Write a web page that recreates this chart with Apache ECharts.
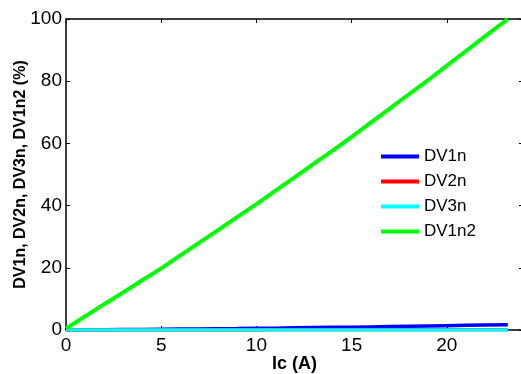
<!DOCTYPE html>
<html>
<head>
<meta charset="utf-8">
<script src="https://cdn.jsdelivr.net/npm/echarts@6/dist/echarts.min.js"></script>
<style>
    html, body { margin: 0; padding: 0; background: #fff; }
    #chart { width: 521px; height: 374px; }
</style>
</head>
<body>
<div id="chart"></div>
<script>
// Ic (A)
var current = [0, 1, 2, 3, 4, 5, 6, 7, 8, 9, 10, 11, 12, 13, 14, 15, 16, 17, 18, 19, 20, 21, 22, 23.2];
var dv1n = [0, 0.05, 0.1, 0.15, 0.2, 0.25, 0.3, 0.35, 0.4, 0.45, 0.55, 0.6, 0.7, 0.8, 0.85, 0.9, 1.0, 1.1, 1.2, 1.3, 1.4, 1.5, 1.6, 1.7];
var dv2n = [0, 0, 0, 0.01, 0.01, 0.02, 0.02, 0.03, 0.03, 0.04, 0.04, 0.05, 0.05, 0.06, 0.06, 0.07, 0.07, 0.08, 0.08, 0.09, 0.09, 0.1, 0.1, 0.1];
var dv3n = [0, 0, 0, 0, 0, 0, 0, 0, 0, 0, 0, 0, 0, 0, 0, 0, 0, 0, 0, 0, 0, 0, 0, 0];
var dv1n2 = [0.5, 4.4, 8.3, 12.1, 16.0, 19.8, 24.0, 28.1, 32.2, 36.4, 40.5, 44.8, 49.1, 53.4, 57.7, 62.1, 66.7, 71.2, 75.8, 80.3, 85.0, 89.7, 94.4, 100];

var names = ['DV1n', 'DV2n', 'DV3n', 'DV1n2'];
var colors = ['#0000ff', '#ff0000', '#00ffff', '#00ff00'];
var values = [dv1n, dv2n, dv3n, dv1n2];

var font = 'Arial, "Liberation Sans", sans-serif';

function pairs(ys) {
    var out = [];
    for (var i = 0; i < current.length; i++) {
        out.push([current[i], ys[i]]);
    }
    return out;
}

var series = [];
for (var i = 0; i < names.length; i++) {
    series.push({
        name: names[i],
        type: 'line',
        xAxisIndex: 0,
        yAxisIndex: 0,
        showSymbol: false,
        animation: false,
        data: pairs(values[i]),
        lineStyle: { color: colors[i], width: i === 3 ? 4 : 3.5 },
        itemStyle: { color: colors[i] }
    });
}

var chart = echarts.init(document.getElementById('chart'));
chart.setOption({
    backgroundColor: '#fff',
    animation: false,
    grid: { left: 66, right: -2, top: 19, bottom: 44, containLabel: false, outerBoundsMode: 'none' },
    legend: {
        orient: 'vertical',
        left: 381,
        top: 148,
        padding: 0,
        itemGap: 8,
        itemWidth: 38,
        itemHeight: 4,
        icon: 'rect',
        data: names,
        textStyle: { fontFamily: font, fontSize: 17, color: '#000', lineHeight: 17 }
    },
    xAxis: [{
        type: 'value',
        min: 0,
        max: 24,
        interval: 5,
        position: 'bottom',
        name: 'Ic (A)',
        nameLocation: 'middle',
        nameGap: 25,
        nameMoveOverlap: false,
        nameTextStyle: { fontFamily: font, fontSize: 18, fontWeight: 'bold', color: '#000' },
        axisLine: { show: true, onZero: false, lineStyle: { color: '#000', width: 1.5 } },
        axisTick: { show: true, inside: true, length: 4, lineStyle: { color: '#000' } },
        axisLabel: { fontFamily: font, fontSize: 19, color: '#000', margin: 6, showMaxLabel: false },
        splitLine: { show: false }
    }, {
        type: 'value',
        min: 0,
        max: 24,
        interval: 5,
        position: 'top',
        axisLine: { show: true, onZero: false, lineStyle: { color: '#000', width: 1.5 } },
        axisTick: { show: true, inside: true, length: 4, lineStyle: { color: '#000' } },
        axisLabel: { show: false },
        splitLine: { show: false }
    }],
    yAxis: [{
        type: 'value',
        min: 0,
        max: 100,
        interval: 20,
        position: 'left',
        name: 'DV1n, DV2n, DV3n, DV1n2 (%)',
        nameLocation: 'middle',
        nameGap: 37,
        nameMoveOverlap: false,
        nameTextStyle: { fontFamily: font, fontSize: 16, fontWeight: 'bold', color: '#000' },
        axisLine: { show: true, onZero: false, lineStyle: { color: '#000', width: 1.5 } },
        axisTick: { show: true, inside: true, length: 4, lineStyle: { color: '#000' } },
        axisLabel: { fontFamily: font, fontSize: 19, color: '#000', margin: 4 },
        splitLine: { show: false }
    }, {
        type: 'value',
        min: 0,
        max: 100,
        interval: 20,
        position: 'right',
        axisLine: { show: true, onZero: false, lineStyle: { color: '#000', width: 1.5 } },
        axisTick: { show: true, inside: true, length: 4, lineStyle: { color: '#000' } },
        axisLabel: { show: false },
        splitLine: { show: false }
    }],
    series: series
});
</script>
</body>
</html>
